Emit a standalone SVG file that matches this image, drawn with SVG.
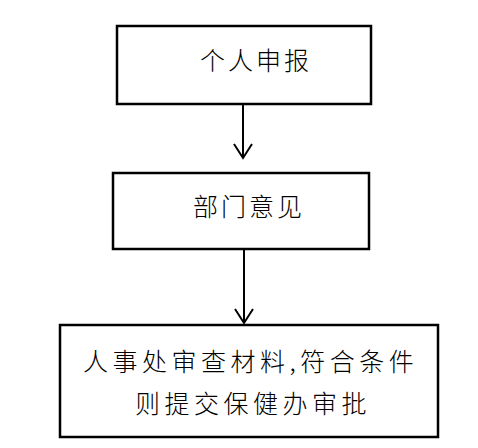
<svg xmlns="http://www.w3.org/2000/svg" width="478" height="448" viewBox="0 0 478 448">
<style>
.box{fill:#fff;stroke:#000;stroke-width:2.5}
.t{font-family:"Noto Sans CJK SC",sans-serif;font-size:25px;font-weight:300;fill:#000;letter-spacing:4.5px}
.c{stroke:#000;stroke-width:2;fill:none}
</style>
<defs>
<marker id="ah" viewBox="0 0 20 20" refX="18" refY="10" markerWidth="20" markerHeight="20" markerUnits="userSpaceOnUse" orient="auto">
<path d="M4,1 L18,10 L4,19" fill="none" stroke="#000" stroke-width="2"/>
</marker>
</defs>
<rect width="478" height="448" fill="#fff"/>
<g id="connectors">
<line class="c" x1="243" y1="104" x2="243" y2="158" marker-end="url(#ah)"/>
<line class="c" x1="244" y1="249" x2="244" y2="323" marker-end="url(#ah)"/>
</g>
<g id="n1">
<rect class="box" x="117" y="26" width="254" height="78"/>
<text class="t" x="200" y="70" style="letter-spacing:3px">个人申报</text>
</g>
<g id="n2">
<rect class="box" x="113" y="173" width="256" height="76"/>
<text class="t" x="193" y="216" style="letter-spacing:3px">部门意见</text>
</g>
<g id="n3">
<rect class="box" x="60" y="325" width="378" height="112"/>
<text class="t" x="83" y="371">人事处审查材料,符合条件</text>
<text class="t" x="135" y="413">则提交保健办审批</text>
</g>
</svg>
